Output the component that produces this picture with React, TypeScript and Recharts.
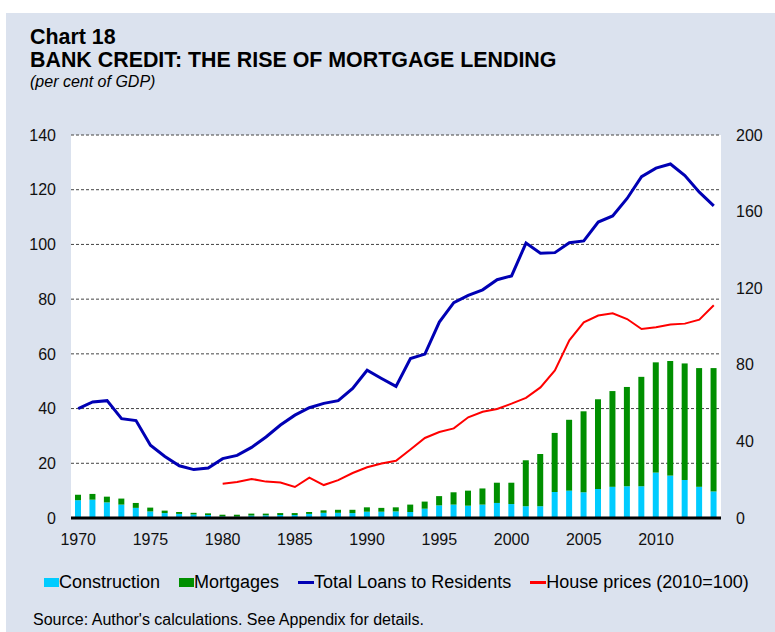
import React from 'react';
import { ComposedChart, Bar, Line, XAxis, YAxis, CartesianGrid } from 'recharts';

const YEARS = [
  1970, 1971, 1972, 1973, 1974, 1975, 1976, 1977, 1978, 1979,
  1980, 1981, 1982, 1983, 1984, 1985, 1986, 1987, 1988, 1989,
  1990, 1991, 1992, 1993, 1994, 1995, 1996, 1997, 1998, 1999,
  2000, 2001, 2002, 2003, 2004, 2005, 2006, 2007, 2008, 2009,
  2010, 2011, 2012, 2013, 2014,
];

// per cent of GDP (left axis)
const CONSTRUCTION = [
  6.5, 6.7, 5.7, 4.9, 3.7, 2.4, 1.8, 1.5, 1.3, 1.1,
  0.6, 0.5, 0.9, 1.0, 1.1, 1.1, 1.5, 1.9, 1.9, 1.8,
  2.3, 2.3, 2.4, 2.2, 3.4, 4.6, 4.9, 4.5, 4.9, 5.5,
  5.1, 4.3, 4.3, 9.5, 10.0, 9.4, 10.6, 11.4, 11.6, 11.6,
  16.6, 15.5, 13.9, 11.4, 9.7,
];

const MORTGAGES = [
  2.0, 2.1, 2.1, 2.2, 1.8, 1.4, 0.9, 0.7, 0.6, 0.6,
  0.6, 0.7, 0.7, 0.6, 0.7, 0.7, 0.7, 0.9, 1.1, 1.2,
  1.6, 1.4, 1.5, 2.7, 2.6, 3.4, 4.5, 5.5, 5.9, 7.4,
  7.8, 16.8, 19.1, 21.6, 25.9, 29.6, 32.8, 35.0, 36.3, 40.0,
  40.3, 41.9, 42.6, 43.4, 45.1,
];

const TOTAL_LOANS = [
  40.0, 42.4, 42.9, 36.3, 35.6, 26.6, 22.5, 19.1, 17.7, 18.3,
  21.7, 22.9, 25.8, 29.6, 34.0, 37.6, 40.3, 41.9, 42.9, 47.4,
  54.0, 51.0, 48.1, 58.3, 59.9, 71.6, 78.7, 81.4, 83.4, 87.1,
  88.5, 100.5, 96.8, 97.0, 100.6, 101.3, 108.2, 110.4, 116.8, 124.8,
  127.9, 129.4, 125.2, 119.1, 114.1,
];

// index, 2010=100 (right axis)
const HOUSE_PRICES: (number | null)[] = [
  null, null, null, null, null, null, null, null, null, null,
  17.9, 18.8, 20.4, 19.0, 18.5, 16.2, 21.1, 17.2, 19.8, 23.5,
  26.5, 28.5, 29.9, 35.8, 41.8, 44.9, 46.8, 52.6, 55.5, 56.9,
  59.7, 62.7, 68.2, 77.1, 92.8, 102.2, 105.7, 106.9, 103.9, 98.7,
  99.6, 101.0, 101.5, 103.6, 111.1,
];

const LEFT_TICKS = [0, 20, 40, 60, 80, 100, 120, 140];
const RIGHT_TICKS = [0, 40, 80, 120, 160, 200];

const data = YEARS.map((year, i) => ({
  year,
  construction: CONSTRUCTION[i],
  mortgages: MORTGAGES[i],
  total: TOTAL_LOANS[i],
  house: HOUSE_PRICES[i],
}));

const FONT = '"Liberation Sans", Arial, sans-serif';
const BG = '#dbe2ee';

const legendItems = [
  { label: 'Construction', color: '#00ccff', kind: 'box' },
  { label: 'Mortgages', color: '#008f00', kind: 'box' },
  { label: 'Total Loans to Residents', color: '#0000b4', kind: 'line' },
  { label: 'House prices (2010=100)', color: '#ff0000', kind: 'line' },
];

export default function App() {
  const tickStyle = { fontSize: 16, fill: '#111', fontFamily: FONT };
  return (
    <div style={{ position: 'absolute', left: 0, top: 0, width: 775, height: 632, background: '#fff', fontFamily: FONT, color: '#000', overflow: 'hidden' }}>
      <div style={{ position: 'absolute', left: 6, top: 13, right: 0, bottom: 0, background: BG }} />
      <div style={{ position: 'absolute', left: 30, top: 27, fontSize: 21.4, lineHeight: '21px', fontWeight: 'bold' }}>Chart 18</div>
      <div style={{ position: 'absolute', left: 30, top: 50, fontSize: 21.4, lineHeight: '21px', fontWeight: 'bold', whiteSpace: 'nowrap' }}>
        BANK CREDIT: THE RISE OF MORTGAGE LENDING
      </div>
      <div style={{ position: 'absolute', left: 30, top: 74, fontSize: 16, lineHeight: '16px', fontStyle: 'italic' }}>(per cent of GDP)</div>

      <div style={{ position: 'absolute', left: 0, top: 0 }}>
        <ComposedChart width={775} height={560} data={data} margin={{ top: 135, right: 0, bottom: 0, left: 0 }} barGap={0}>
          <CartesianGrid vertical={false} stroke="#444" strokeDasharray="3 2" fill="#ffffff" fillOpacity={1} yAxisId="left" />
          <XAxis
            dataKey="year"
            interval={4}
            height={42}
            tickLine={false}
            tickSize={0}
            tickMargin={16}
            axisLine={{ stroke: '#000', strokeWidth: 3 }}
            tick={tickStyle}
          />
          <YAxis
            yAxisId="left"
            orientation="left"
            width={71}
            domain={[0, 140]}
            ticks={LEFT_TICKS}
            axisLine={false}
            tickLine={false}
            tickSize={0}
            tickMargin={15}
            tick={tickStyle}
          />
          <YAxis
            yAxisId="right"
            orientation="right"
            width={54}
            domain={[0, 200]}
            ticks={RIGHT_TICKS}
            axisLine={false}
            tickLine={false}
            tickSize={0}
            tickMargin={15}
            tick={tickStyle}
          />
          <Bar yAxisId="left" dataKey="construction" stackId="a" fill="#00ccff" barSize={6} isAnimationActive={false} />
          <Bar yAxisId="left" dataKey="mortgages" stackId="a" fill="#008f00" barSize={6} isAnimationActive={false} />
          <Line yAxisId="left" type="linear" dataKey="total" stroke="#0000b4" strokeWidth={3} dot={false} isAnimationActive={false} />
          <Line yAxisId="right" type="linear" dataKey="house" stroke="#ff0000" strokeWidth={2} dot={false} isAnimationActive={false} />
        </ComposedChart>
      </div>

      <div style={{ position: 'absolute', left: 44, top: 572, display: 'flex', alignItems: 'center', fontSize: 18, lineHeight: '20px', whiteSpace: 'nowrap' }}>
        {legendItems.map((item) => (
          <div key={item.label} style={{ display: 'flex', alignItems: 'center', marginRight: 19 }}>
            {item.kind === 'box' ? (
              <div style={{ width: 15, height: 9, background: item.color }} />
            ) : (
              <div style={{ width: 16, height: 3, background: item.color }} />
            )}
            <span>{item.label}</span>
          </div>
        ))}
      </div>

      <div style={{ position: 'absolute', left: 33, top: 611, fontSize: 16, lineHeight: '18px', whiteSpace: 'nowrap' }}>
        Source: Author's calculations. See Appendix for details.
      </div>
    </div>
  );
}
